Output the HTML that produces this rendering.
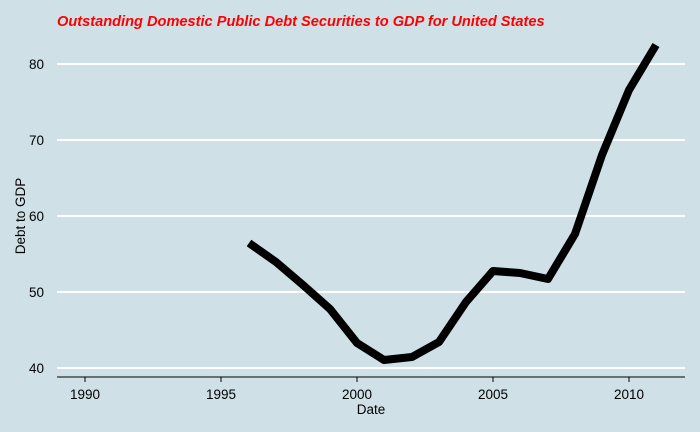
<!DOCTYPE html>
<html><head><meta charset="utf-8"><style>
body{margin:0;background:#d0e1e8}
svg{display:block}
text{font-family:"Liberation Sans",sans-serif}
</style></head><body>
<svg width="700" height="432" viewBox="0 0 700 432">
<rect width="700" height="432" fill="#cfe0e7"/>
<g stroke="#ffffff" stroke-width="2">
<line x1="57" x2="685" y1="64" y2="64"/>
<line x1="57" x2="685" y1="140" y2="140"/>
<line x1="57" x2="685" y1="216" y2="216"/>
<line x1="57" x2="685" y1="292" y2="292"/>
<line x1="57" x2="685" y1="368" y2="368"/>
</g>
<line x1="57" x2="685" y1="377" y2="377" stroke="#000" stroke-width="1"/>
<g stroke="#000" stroke-width="1">
<line x1="85" x2="85" y1="377" y2="382"/>
<line x1="221" x2="221" y1="377" y2="382"/>
<line x1="357" x2="357" y1="377" y2="382"/>
<line x1="493" x2="493" y1="377" y2="382"/>
<line x1="629" x2="629" y1="377" y2="382"/>
</g>
<g font-size="13.5" fill="#000" text-anchor="middle">
<text x="85" y="399">1990</text>
<text x="221" y="399">1995</text>
<text x="357" y="399">2000</text>
<text x="493" y="399">2005</text>
<text x="629" y="399">2010</text>
<text x="371" y="414">Date</text>
</g>
<g font-size="13.5" fill="#000" text-anchor="end">
<text x="44" y="69">80</text>
<text x="44" y="145">70</text>
<text x="44" y="221">60</text>
<text x="44" y="297">50</text>
<text x="44" y="373">40</text>
</g>
<text transform="translate(25,216) rotate(-90)" font-size="13.5" text-anchor="middle">Debt to GDP</text>
<text x="57" y="26" font-size="14.6" font-weight="bold" font-style="italic" fill="#ff0000">Outstanding Domestic Public Debt Securities to GDP for United States</text>
<polyline fill="none" stroke="#000" stroke-width="8" stroke-linejoin="round" stroke-linecap="butt"
points="249,243 276,262 303,285 330,309 357,343 384,360 412,357 439,342 466,302 493,271 520,273 548,279 575,234 602,155 629,90 656,45"/>
</svg>
</body></html>
